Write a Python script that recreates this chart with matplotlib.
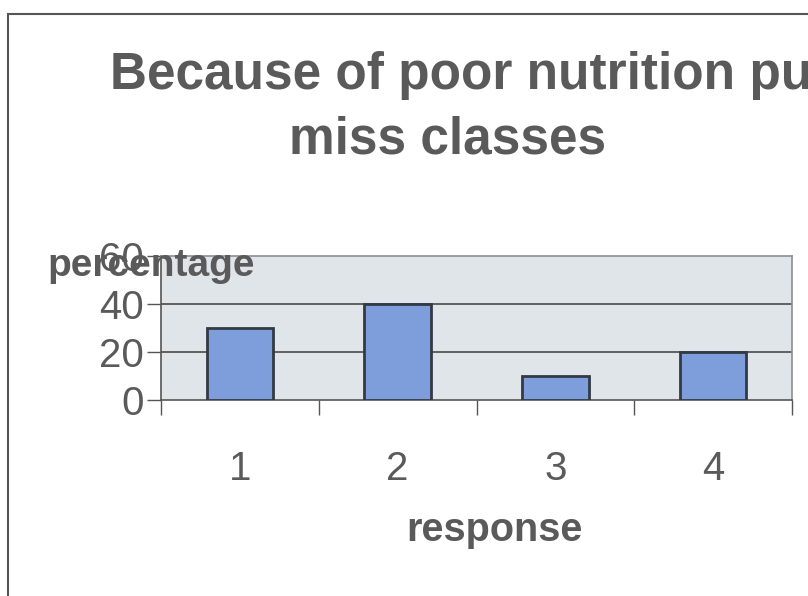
import matplotlib
matplotlib.use("Agg")
import matplotlib.pyplot as plt
from matplotlib.patches import Rectangle
import numpy as np

categories = ["1", "2", "3", "4"]
values = [30, 40, 10, 20]
yticks = [0, 20, 40, 60]
title_line1 = "Because of poor nutrition pupils"
title_line2 = "miss classes"
xlabel = "response"
ylabel = "percentage"

plt.rcParams['font.family'] = ['Liberation Sans', 'DejaVu Sans']
W, H = 808, 596
fig = plt.figure(figsize=(W / 100, H / 100), dpi=100)
fig.patch.set_facecolor("white")

def fx(px):
    return px / W

def fy(py):
    return 1 - py / H

text_col = "#5a5a5a"

# outer frame (cropped on right and bottom)
fig.patches.append(Rectangle((fx(8), fy(640)), fx(900), fy(14) - fy(640),
                             transform=fig.transFigure, fill=False,
                             edgecolor="#555555", linewidth=1.5))

left, right, top, bottom = 161, 792, 256, 400
ax = fig.add_axes([fx(left), fy(bottom), fx(right) - fx(left), fy(top) - fy(bottom)])
ax.set_facecolor("#e0e5ea")

x = np.arange(len(categories))
ax.bar(x, values, width=0.42, color="#7d9edb", edgecolor="#333a44", linewidth=2, zorder=3)
ax.set_xlim(-0.5, len(categories) - 0.5)
ax.set_ylim(0, 60)

ax.set_yticks(yticks)
ax.set_yticklabels([str(v) for v in yticks], fontsize=29, color=text_col)
ax.tick_params(axis="y", length=10, width=1, color="#555555", pad=2)

ax.set_xticks(x)
ax.set_xticklabels(categories, fontsize=29, color=text_col)
ax.tick_params(axis="x", which="major", length=0, pad=36)
ax.set_xticks(np.arange(len(categories) + 1) - 0.5, minor=True)
ax.tick_params(axis="x", which="minor", length=11, width=1, color="#555555")

for v in yticks[1:-1]:
    ax.axhline(v, color="#4a4a4a", linewidth=1.2, zorder=1)

for s in ["top", "right"]:
    ax.spines[s].set_color("#8a8f95")
    ax.spines[s].set_linewidth(1.2)
for s in ["left", "bottom"]:
    ax.spines[s].set_color("#555555")
    ax.spines[s].set_linewidth(1.2)

fig.text(fx(110), fy(75), title_line1, fontsize=37, fontweight="bold",
         color=text_col, ha="left", va="center")
fig.text(fx(448), fy(140), title_line2, fontsize=37, fontweight="bold",
         color=text_col, ha="center", va="center")
fig.text(fx(47), fy(266), ylabel, fontsize=28, fontweight="bold",
         color=text_col, ha="left", va="center")
fig.text(fx(494), fy(530), xlabel, fontsize=28.5, fontweight="bold",
         color=text_col, ha="center", va="center")

fig.savefig("out.png", dpi=100)
